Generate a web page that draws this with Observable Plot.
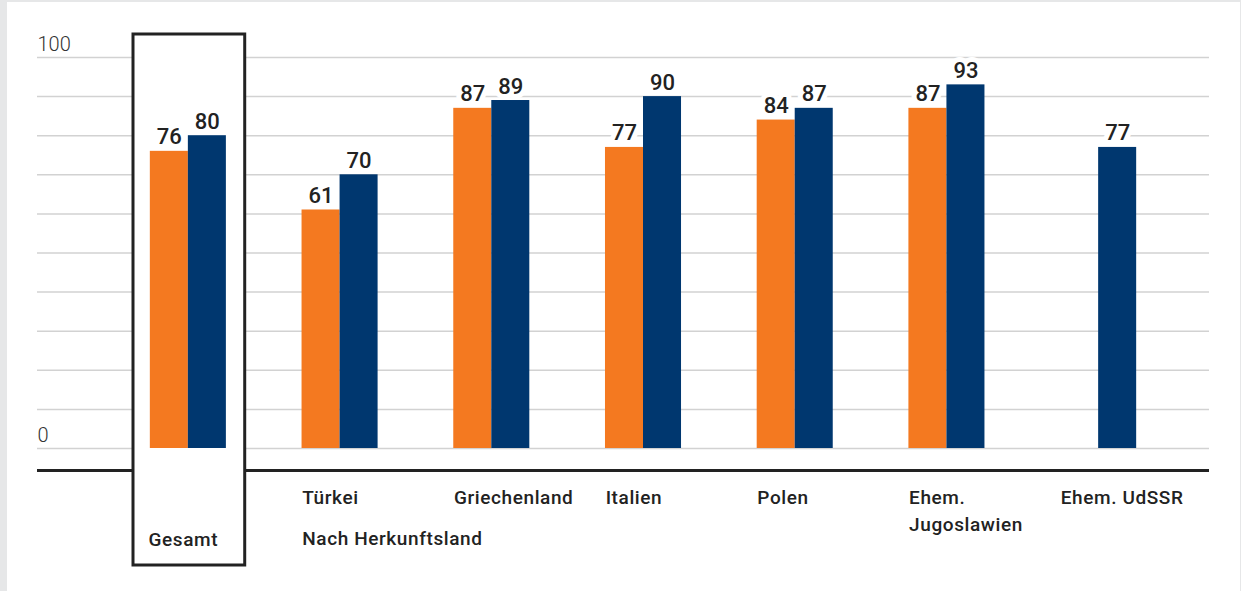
<!DOCTYPE html>
<html><head><meta charset="utf-8">
<script src="https://cdn.jsdelivr.net/npm/d3@7"></script>
<script src="https://cdn.jsdelivr.net/npm/@observablehq/plot@0.6"></script>
<style>
html,body{margin:0;padding:0;background:#e6e7e8;}
#wrap{position:relative;width:1241px;height:591px;overflow:hidden;}
#panel{position:absolute;left:7px;top:2px;width:1233px;height:589px;background:#fff;}
#wrap svg{position:absolute;left:0;top:0;background:transparent;font-family:Roboto,"Noto Sans",sans-serif;}
#wrap g[font-size="19"] text{letter-spacing:0.6px;}
</style></head><body><div id="wrap"><div id="panel"></div></div>
<script>
// ---- data ----
const categories = ["Gesamt","Türkei","Griechenland","Italien","Polen","Ehem. Jugoslawien","Ehem. UdSSR"];
const categoryLabels = ["Gesamt","Türkei","Griechenland","Italien","Polen","Ehem.\nJugoslawien","Ehem. UdSSR"];
const seriesNames = ["Reihe 1","Reihe 2"];
const valuesOrange = [76,61,87,77,84,87,null];
const valuesBlue = [80,70,89,90,87,93,77];
const yTickLabels = [0,100];
const groupHeading = "Nach Herkunftsland";
const totalCategory = "Gesamt";
const colors = ["#f47920","#00376f"];

// ---- tables built from arrays ----
const data = categories.flatMap((c,i)=>[
  {group:c, series:seriesNames[0], value:valuesOrange[i]},
  {group:c, series:seriesNames[1], value:valuesBlue[i]}
]).filter(d=>d.value!=null);
const cats = categories.map((c,i)=>({group:c, label:categoryLabels[i]}));

const W=1241, H=591, MT=57, MB=143;
const ink="#222";

const bg = Plot.plot({
  width:W, height:H, marginLeft:37, marginRight:32, marginTop:MT, marginBottom:MB,
  y:{domain:[0,100], axis:null},
  style:{background:"transparent"},
  marks:[
    Plot.gridY({ticks:10, stroke:"#d2d2d2", strokeOpacity:1, strokeWidth:1.5}),
    Plot.ruleY([0],{dy:22, stroke:ink, strokeWidth:3}),
    Plot.text(yTickLabels,{y:d=>d, text:d=>String(d), frameAnchor:"left", textAnchor:"start", lineAnchor:"bottom", dy:-7, fontSize:20, fontWeight:300, fill:"#333"})
  ]
});

const fg = Plot.plot({
  width:W, height:H, marginLeft:112, marginRight:67, marginTop:MT, marginBottom:MB,
  fx:{domain:categories, axis:null, paddingInner:0, paddingOuter:0, round:false},
  x:{domain:seriesNames, axis:null, paddingInner:0, paddingOuter:0.995, round:false},
  y:{domain:[0,100], axis:null},
  color:{domain:seriesNames, range:colors},
  style:{background:"transparent"},
  marks:[
    Plot.rect(cats.filter(d=>d.group===totalCategory),{fx:"group", fill:"white", stroke:ink, strokeWidth:3, insetLeft:21, insetRight:19, insetTop:-23, insetBottom:-117}),
    Plot.barY(data,{fx:"group", x:"series", y:"value", fill:"series", inset:0}),
    Plot.text(data,{fx:"group", x:"series", y:"value", text:d=>String(d.value), lineAnchor:"bottom", dy:-7, fontSize:22, fontWeight:500, fill:ink, stroke:"white", strokeWidth:10, paintOrder:"stroke"}),
    Plot.text(cats.filter(d=>d.group!==totalCategory),{fx:"group", text:"label", frameAnchor:"bottom-left", textAnchor:"start", lineAnchor:"top", lineHeight:1.42, dx:38, dy:36, fontSize:19, fontWeight:500, fill:ink}),
    Plot.text(cats.filter(d=>d.group===totalCategory),{fx:"group", text:"label", frameAnchor:"bottom-left", textAnchor:"start", lineAnchor:"bottom", dx:36, dy:97, fontSize:19, fontWeight:500, fill:ink}),
    Plot.text([{group:categories[1], label:groupHeading}],{fx:"group", text:"label", frameAnchor:"bottom-left", textAnchor:"start", lineAnchor:"bottom", dx:38, dy:96, fontSize:19, fontWeight:500, fill:ink})
  ]
});

const wrap=document.getElementById("wrap");
wrap.appendChild(bg);
wrap.appendChild(fg);
</script>
</body></html>
